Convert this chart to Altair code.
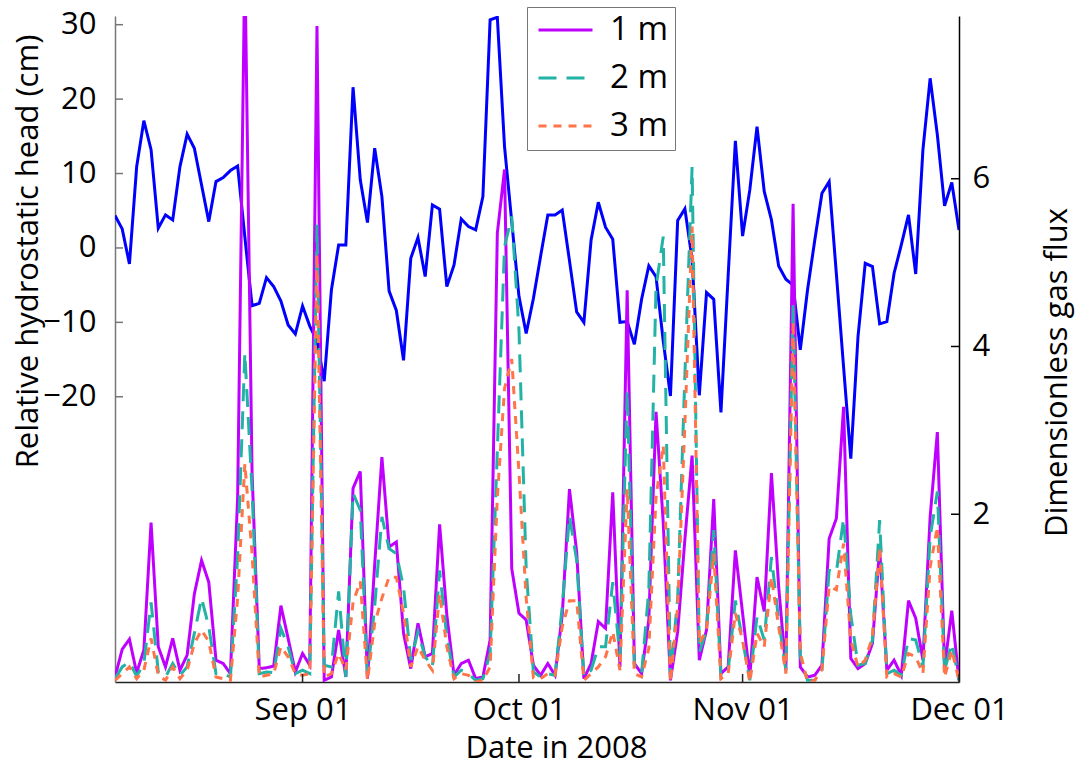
import altair as alt
import pandas as pd

# ---------------- data ----------------
start_date = "2008-08-06"
n_days = 118
dates = pd.date_range(start_date, periods=n_days, freq="D").strftime("%Y-%m-%d").tolist()

head_cm = [
    4.35, 2.56, -2.15, 10.9, 17.1, 13.2, 2.65, 4.44, 3.77, 10.9,
    15.3, 13.4, 8.47, 3.54, 8.92, 9.46, 10.4, 11.0, 1.5, -7.76,
    -7.44, -3.99, -5.2, -7.13, -10.36, -11.57, -7.8, -10.5, -12.5, -17.9,
    -5.65, 0.4, 0.4, 21.6, 9.15, 3.41, 13.4, 6.9, -5.8, -8.4,
    -15.1, -1.39, 1.39, -3.85, 5.78, 5.2, -5.2, -2.29, 3.9, 2.87,
    2.42, 6.9, 30.67, 31.0, 13.6, 3.5, -6.5, -11.5, -6.8, -1.1,
    4.44, 4.44, 5.1, -1.7, -8.6, -10.0, 1.08, 6.14, 2.78, 1.17,
    -10.0, -9.9, -12.96, -6.9, -2.4, -3.86, -12.5, -19.9, 3.68, 5.25,
    -1.5, -19.8, -6.0, -6.9, -22.1, -3.7, 14.4, 1.6, 7.8, 16.3,
    7.6, 3.77, -2.42, -4.2, -5.0, -13.7, -5.65, 1.0, 7.35, 8.9,
    -3.5, -16.0, -28.3, -11.9, -2.06, -2.5, -10.2, -9.9, -3.4, 0.4,
    4.44, -3.5, 13.2, 22.8, 15.2, 5.65, 8.8, 2.42,
]

flux_1m = [
    0.06, 0.39, 0.51, 0.11, 0.38, 1.90, 0.42, 0.18, 0.52, 0.14,
    0.32, 1.05, 1.45, 1.19, 0.26, 0.22, 0.10, 2.2, 8.6, 2.5,
    0.16, 0.17, 0.19, 0.91, 0.52, 0.12, 0.34, 0.20, 7.82, 0.02,
    0.06, 0.62, 0.06, 2.31, 2.51, 0.04, 1.4, 2.68, 1.61, 1.67,
    0.58, 0.16, 0.70, 0.30, 0.34, 1.88, 0.8, 0.08, 0.22, 0.26,
    0.04, 0.06, 0.50, 5.35, 6.11, 1.35, 0.82, 0.74, 0.20, 0.08,
    0.22, 0.08, 0.8, 2.30, 1.55, 0.04, 0.22, 0.72, 0.64, 2.26,
    0.18, 4.67, 0.22, 0.10, 0.74, 3.22, 1.9, 0.02, 0.6, 1.7,
    2.70, 0.26, 0.62, 2.18, 0.10, 0.18, 1.57, 0.82, 0.06, 1.25,
    0.84, 2.49, 1.14, 0.14, 5.70, 0.18, 0.06, 0.08, 0.20, 1.71,
    1.95, 3.28, 0.28, 0.16, 0.22, 0.46, 1.59, 0.14, 0.26, 0.08,
    0.97, 0.76, 0.26, 1.97, 2.98, 0.18, 0.85, 0.02,
]

flux_2m = [
    0.04, 0.18, 0.24, 0.07, 0.22, 0.95, 0.12, 0.06, 0.22, 0.08,
    0.18, 0.58, 1.0, 0.66, 0.10, 0.10, 0.06, 1.5, 3.92, 2.29,
    0.10, 0.12, 0.11, 0.64, 0.42, 0.10, 0.14, 0.10, 5.45, 0.20,
    0.18, 1.08, 0.06, 2.25, 2.05, 0.08, 0.9, 1.97, 1.59, 1.53,
    1.13, 0.26, 0.60, 0.30, 0.18, 1.33, 0.54, 0.06, 0.14, 0.10,
    0.02, 0.04, 0.34, 2.76, 5.19, 5.55, 4.2, 1.35, 0.12, 0.06,
    0.10, 0.08, 0.9, 1.98, 1.45, 0.06, 0.14, 0.42, 0.42, 1.19,
    0.3, 3.48, 0.20, 0.10, 1.1, 4.71, 5.31, 0.05, 1.0, 3.65,
    6.14, 0.35, 0.62, 1.81, 0.06, 0.14, 0.97, 0.5, 0.02, 0.78,
    0.5, 1.49, 0.74, 0.14, 4.53, 0.3, 0.02, 0.02, 0.14, 1.33,
    1.31, 1.95, 0.8, 0.2, 0.22, 0.5, 1.93, 0.10, 0.14, 0.08,
    0.52, 0.50, 0.18, 1.73, 2.27, 0.14, 0.46, 0.02,
]

flux_3m = [
    0.02, 0.10, 0.18, 0.04, 0.14, 0.52, 0.08, 0.02, 0.18, 0.04,
    0.14, 0.46, 0.62, 0.48, 0.06, 0.04, 0.02, 1.0, 2.6, 1.53,
    0.06, 0.08, 0.10, 0.42, 0.30, 0.10, 0.08, 0.10, 5.1, 0.06,
    0.10, 0.34, 0.14, 0.95, 1.2, 0.02, 0.7, 1.0, 1.25, 1.25,
    0.82, 0.18, 0.42, 0.26, 0.14, 1.05, 0.42, 0.04, 0.10, 0.08,
    0.0, 0.02, 0.18, 2.2, 3.5, 3.85, 2.5, 1.0, 0.05, 0.04,
    0.10, 0.08, 0.66, 0.97, 0.97, 0.02, 0.10, 0.18, 0.30, 0.6,
    0.14, 2.3, 0.10, 0.06, 0.4, 2.2, 2.82, 0.0, 0.9, 3.07,
    5.43, 0.46, 0.62, 1.53, 0.04, 0.10, 0.82, 0.5, 0.0, 0.58,
    0.42, 1.25, 0.66, 0.10, 4.3, 0.35, 0.0, 0.02, 0.15, 1.14,
    1.1, 1.65, 0.5, 0.18, 0.26, 0.54, 1.6, 0.06, 0.10, 0.06,
    0.34, 0.30, 0.10, 1.37, 1.85, 0.06, 0.38, 0.02,
]

depths = ["1 m", "2 m", "3 m"]
depth_colors = ["#BF00FF", "#22B2A6", "#FF7448"]
depth_dashes = [[1, 0], [18, 10], [8, 7]]

left_tick_values = [-20, -10, 0, 10, 20, 30]
right_tick_values = [2, 4, 6]
x_tick_dates = ["2008-09-01", "2008-10-01", "2008-11-01", "2008-12-01"]

# ---------------- layout constants ----------------
W, H = 844, 666
FONT = "Open Sans"
FS = 31

head_df = pd.DataFrame({"date": dates, "head": head_cm})
flux_df = pd.DataFrame({
    "date": dates * 3,
    "depth": [depths[0]] * n_days + [depths[1]] * n_days + [depths[2]] * n_days,
    "flux": flux_1m + flux_2m + flux_3m,
})
left_ticks_df = pd.DataFrame({"v": left_tick_values})
right_ticks_df = pd.DataFrame({"v": right_tick_values})
x_ticks_df = pd.DataFrame({"date": x_tick_dates})

x_scale = alt.Scale(
    type="utc",
    domain=[alt.DateTime(year=2008, month=8, date=6, utc=True),
            alt.DateTime(year=2008, month=12, date=1, utc=True)],
    nice=False,
)
x_axis = alt.Axis(
    title="Date in 2008",
    values=[alt.DateTime(year=2008, month=m, date=1, utc=True) for m in (9, 10, 11, 12)],
    format="%b %d",
    labelFlush=False, labelOverlap=False,
    ticks=False, tickSize=0, grid=False,
    domainColor="#222222", domainWidth=1.5,
    labelFontSize=FS, titleFontSize=FS, labelPadding=13,
    titleX=441, titleY=66, titleBaseline="middle", titleAlign="center",
)

left_scale = alt.Scale(domain=[-58.33, 31.17], nice=False, zero=False)
right_scale = alt.Scale(domain=[0, 7.94], nice=False, zero=False)

left_axis = alt.Axis(
    title="Relative hydrostatic head (cm)", orient="left",
    values=left_tick_values, format="d",
    ticks=False, tickSize=0, grid=False,
    domainColor="#777777", domainWidth=1.5,
    labelFontSize=FS, titleFontSize=FS, labelPadding=19,
    titleX=-87, titleY=235, titleAngle=270,
    titleBaseline="middle", titleAlign="center",
)
right_axis = alt.Axis(
    title="Dimensionless gas flux", orient="right",
    values=right_tick_values, format="d",
    ticks=False, tickSize=0, grid=False,
    domainColor="#000000", domainWidth=1.5,
    labelFontSize=FS, titleFontSize=FS, labelPadding=13,
    titleX=98, titleY=356, titleAngle=270,
    titleBaseline="middle", titleAlign="center",
)

legend = alt.Legend(
    title=None, orient="none", legendX=412, legendY=-9,
    direction="vertical",
    symbolType="stroke", symbolSize=2916, symbolStrokeWidth=3, symbolOffset=3,
    labelFontSize=33, labelFont=FONT, labelOffset=16,
    clipHeight=32,
    strokeColor="#777777", fillColor="white", padding=7, rowPadding=15,
)

head_line = alt.Chart(head_df).mark_line(color="#0000FF", strokeWidth=3, clip=True).encode(
    x=alt.X("date:T", scale=x_scale, axis=x_axis),
    y=alt.Y("head:Q", scale=left_scale, axis=left_axis),
)
left_ticks = alt.Chart(left_ticks_df).mark_rule(color="#777777", strokeWidth=1.5).encode(
    y=alt.Y("v:Q", scale=left_scale, axis=None),
    x=alt.value(0), x2=alt.value(8),
)
bottom_ticks = alt.Chart(x_ticks_df).mark_rule(color="#222222", strokeWidth=1.5).encode(
    x=alt.X("date:T", scale=x_scale, axis=x_axis),
    y=alt.value(H), y2=alt.value(H - 8),
)
flux_lines = alt.Chart(flux_df).mark_line(strokeWidth=3, clip=True).encode(
    x=alt.X("date:T", scale=x_scale, axis=x_axis),
    y=alt.Y("flux:Q", scale=right_scale, axis=right_axis),
    color=alt.Color("depth:N", scale=alt.Scale(domain=depths, range=depth_colors), legend=legend),
    strokeDash=alt.StrokeDash("depth:N", scale=alt.Scale(domain=depths, range=depth_dashes), legend=legend),
)
right_ticks = alt.Chart(right_ticks_df).mark_rule(color="#000000", strokeWidth=1.5).encode(
    y=alt.Y("v:Q", scale=right_scale, axis=None),
    x=alt.value(W), x2=alt.value(W - 8),
)

chart = (
    alt.layer(head_line, flux_lines, left_ticks, right_ticks, bottom_ticks)
    .resolve_scale(y="independent")
    .properties(
        width=W, height=H,
        autosize=alt.AutoSizeParams(type="none"),
        padding={"left": 115, "top": 16, "right": 1078 - 115 - W, "bottom": 767 - 16 - H},
        background="white",
    )
    .configure_view(stroke=None)
    .configure_axis(labelFont=FONT, titleFont=FONT, labelColor="black", titleColor="black",
                    titleFontWeight="normal")
    .configure_legend(labelColor="black")
)

chart.save("out.html", embed_options={"renderer": "svg", "actions": False})
